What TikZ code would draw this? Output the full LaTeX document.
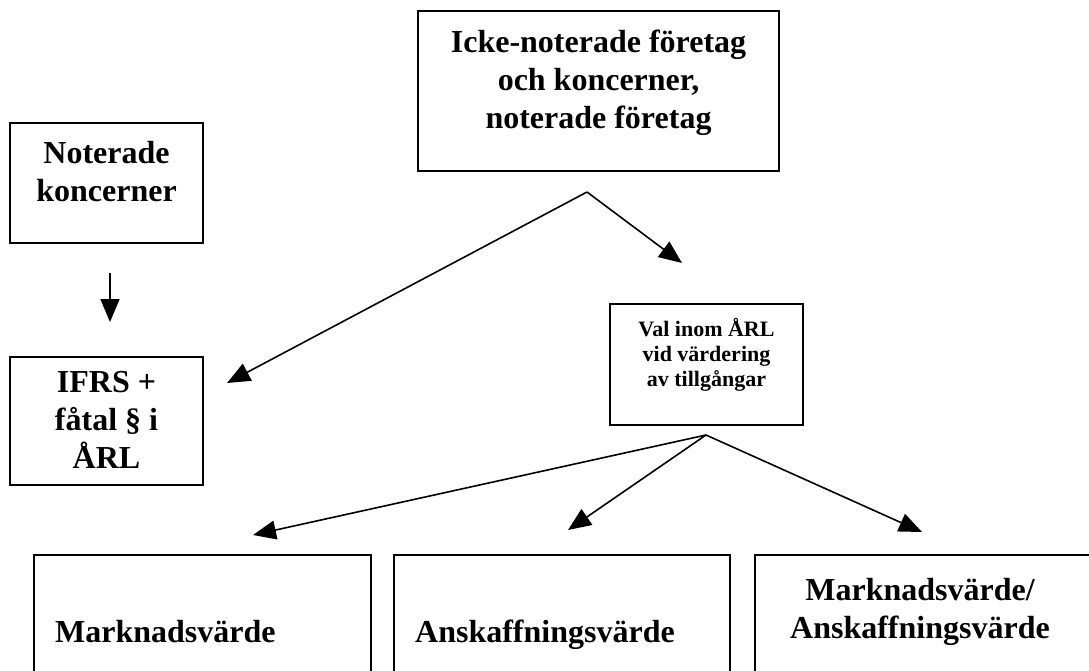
\documentclass[tikz,border=0pt]{standalone}
\usepackage{fontspec}
\setmainfont{Liberation Serif}
\usetikzlibrary{arrows.meta}
\begin{document}
\begin{tikzpicture}[x=1pt,y=-1pt,
  box/.style={draw=black, line width=1.8pt, inner sep=0pt},
  big/.style={font=\fontsize{32}{38}\selectfont\bfseries, inner sep=0pt, anchor=base},
  small/.style={font=\fontsize{22}{25}\selectfont\bfseries, inner sep=0pt, anchor=base},
  arr/.style={line width=1.6pt, -{Triangle[length=23pt,width=19pt]}}]
\clip (0,0) rectangle (1089,670);
\fill[white] (0,0) rectangle (1089,670);
% boxes
\node[box, minimum width=361pt, minimum height=160pt] (top) at (598.5,91) {};
\node[box, minimum width=193pt, minimum height=120pt] (noter) at (106.5,183) {};
\node[box, minimum width=193pt, minimum height=128pt] (ifrs) at (106.5,421) {};
\node[box, minimum width=193pt, minimum height=121pt] (val) at (706.5,364.5) {};
\node[box, minimum width=337pt, minimum height=200pt] (mv) at (202.5,655) {};
\node[box, minimum width=336pt, minimum height=200pt] (av) at (562,655) {};
\node[box, minimum width=345pt, minimum height=200pt] (mav) at (927.5,655) {};
% texts
\node[big] (toptext) at (598.5,52) {\begin{tabular}[t]{@{}c@{}}Icke-noterade företag\\och koncerner,\\noterade företag\end{tabular}};
\node[big] (notertext) at (106.5,163) {\begin{tabular}[t]{@{}c@{}}Noterade\\koncerner\end{tabular}};
\node[big] (ifrstext) at (106.5,392) {\begin{tabular}[t]{@{}c@{}}IFRS +\\fåtal § i\\ÅRL\end{tabular}};
\node[small] (valtext) at (706.5,336) {\begin{tabular}[t]{@{}c@{}}Val inom ÅRL\\vid värdering\\av tillgångar\end{tabular}};
\node[big, anchor=base west] (mvtext) at (55,642) {Marknadsvärde};
\node[big, anchor=base west] (avtext) at (415,642) {Anskaffningsvärde};
\node[big] (mavtext) at (920,600) {\begin{tabular}[t]{@{}c@{}}Marknadsvärde/\\Anskaffningsvärde\end{tabular}};
% connector points
\coordinate (apexA) at (587,192);
\coordinate (tipIFRS) at (227,383);
\coordinate (tipVal) at (682,263);
\coordinate (downS) at (110,273);
\coordinate (downE) at (110,322);
\coordinate (apexB) at (706,435);
\coordinate (tipMV) at (253,535);
\coordinate (tipAV) at (568,530);
\coordinate (tipMAV) at (922,532);
% arrows
\draw[arr] (apexA) -- (tipIFRS);
\draw[arr] (apexA) -- (tipVal);
\draw[arr] (downS) -- (downE);
\draw[arr] (apexB) -- (tipMV);
\draw[arr] (apexB) -- (tipAV);
\draw[arr] (apexB) -- (tipMAV);
\end{tikzpicture}
\end{document}
